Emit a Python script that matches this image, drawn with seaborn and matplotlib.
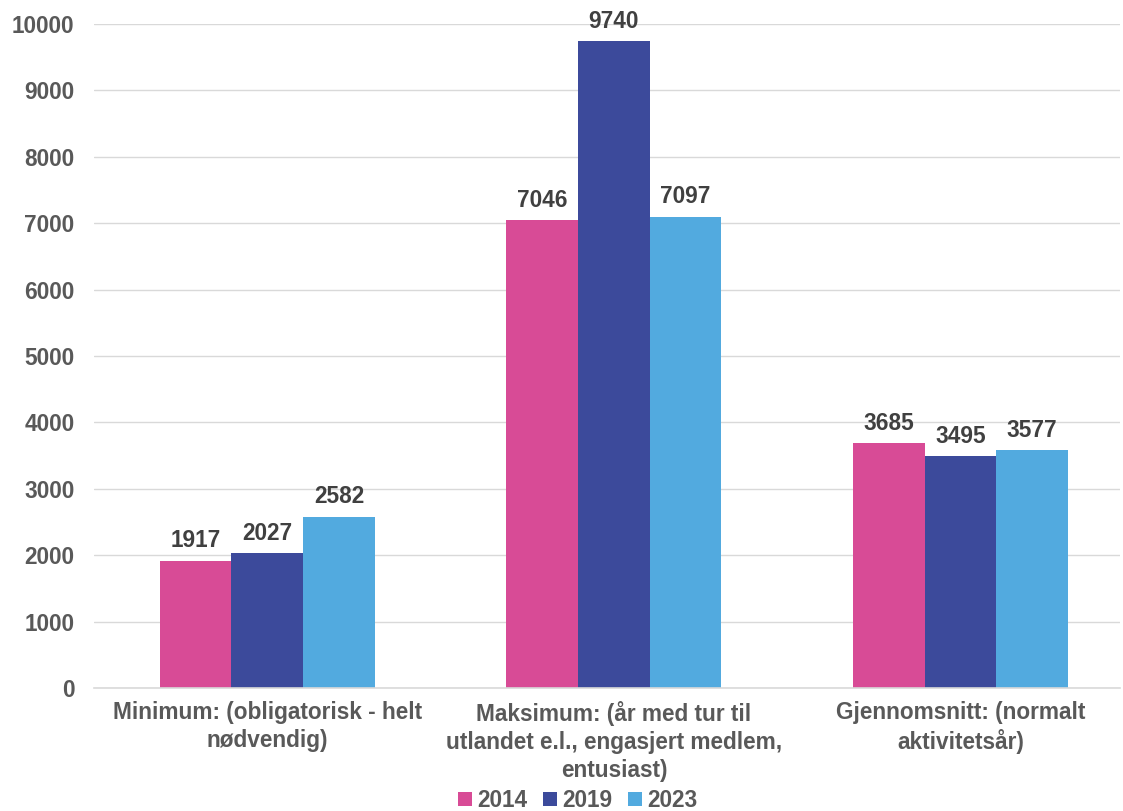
import matplotlib.pyplot as plt
import pandas as pd
import seaborn as sns

# Data
categories = ['Minimum: (obligatorisk - helt\nnødvendig)',
              'Maksimum: (år med tur til\nutlandet e.l., engasjert medlem,\nentusiast)',
              'Gjennomsnitt: (normalt\naktivitetsår)']
years = ['2014', '2019', '2023']
values_2014 = [1917, 7046, 3685]
values_2019 = [2027, 9740, 3495]
values_2023 = [2582, 7097, 3577]
colors = ['#D84B96', '#3C4A9B', '#52AADF']

df = pd.DataFrame({
    'kategori': categories * 3,
    'år': [y for y in years for _ in categories],
    'verdi': values_2014 + values_2019 + values_2023,
})

sns.set_style('white')
plt.rcParams['font.family'] = ['Liberation Sans', 'DejaVu Sans']
fs = 16.3

fig = plt.figure(figsize=(11.23, 8.11), dpi=100)
ax = fig.add_axes([94 / 1123, (811 - 688) / 811, (1120 - 94) / 1123, (688 - 24) / 811])

sns.barplot(data=df, x='kategori', y='verdi', hue='år', order=categories, hue_order=years,
            palette=colors, width=0.62, saturation=1, linewidth=0, ax=ax, zorder=2)

for cont in ax.containers:
    ax.bar_label(cont, fmt='%d', padding=6, fontsize=fs, fontweight='bold', color='#404040')

ax.set_ylim(0, 10000)
ax.set_xlim(-0.5, 2.46)
ax.set_yticks(range(0, 10001, 1000))
ax.yaxis.grid(True, color='#D9D9D9', linewidth=1, zorder=0)
ax.set_axisbelow(True)
for s in ['top', 'right', 'left']:
    ax.spines[s].set_visible(False)
ax.spines['bottom'].set_color('#D9D9D9')
ax.spines['bottom'].set_linewidth(1.2)
ax.tick_params(axis='y', length=0, pad=14, labelsize=fs, labelcolor='#595959')
ax.tick_params(axis='x', length=0, pad=9, labelsize=fs, labelcolor='#595959')
for lbl in ax.get_yticklabels() + ax.get_xticklabels():
    lbl.set_fontweight('bold')
for lbl in ax.get_xticklabels():
    lbl.set_linespacing(1.3)
ax.set_xlabel('')
ax.set_ylabel('')

ax.legend(loc='lower center', bbox_to_anchor=(0.5 - 29 / 1026, -0.2), ncol=3, frameon=False,
          handlelength=0.6, handleheight=0.6, handletextpad=0.25, columnspacing=0.7,
          borderaxespad=0, prop={'size': fs, 'weight': 'bold'}, labelcolor='#595959')

fig.savefig('out.png', dpi=100)
